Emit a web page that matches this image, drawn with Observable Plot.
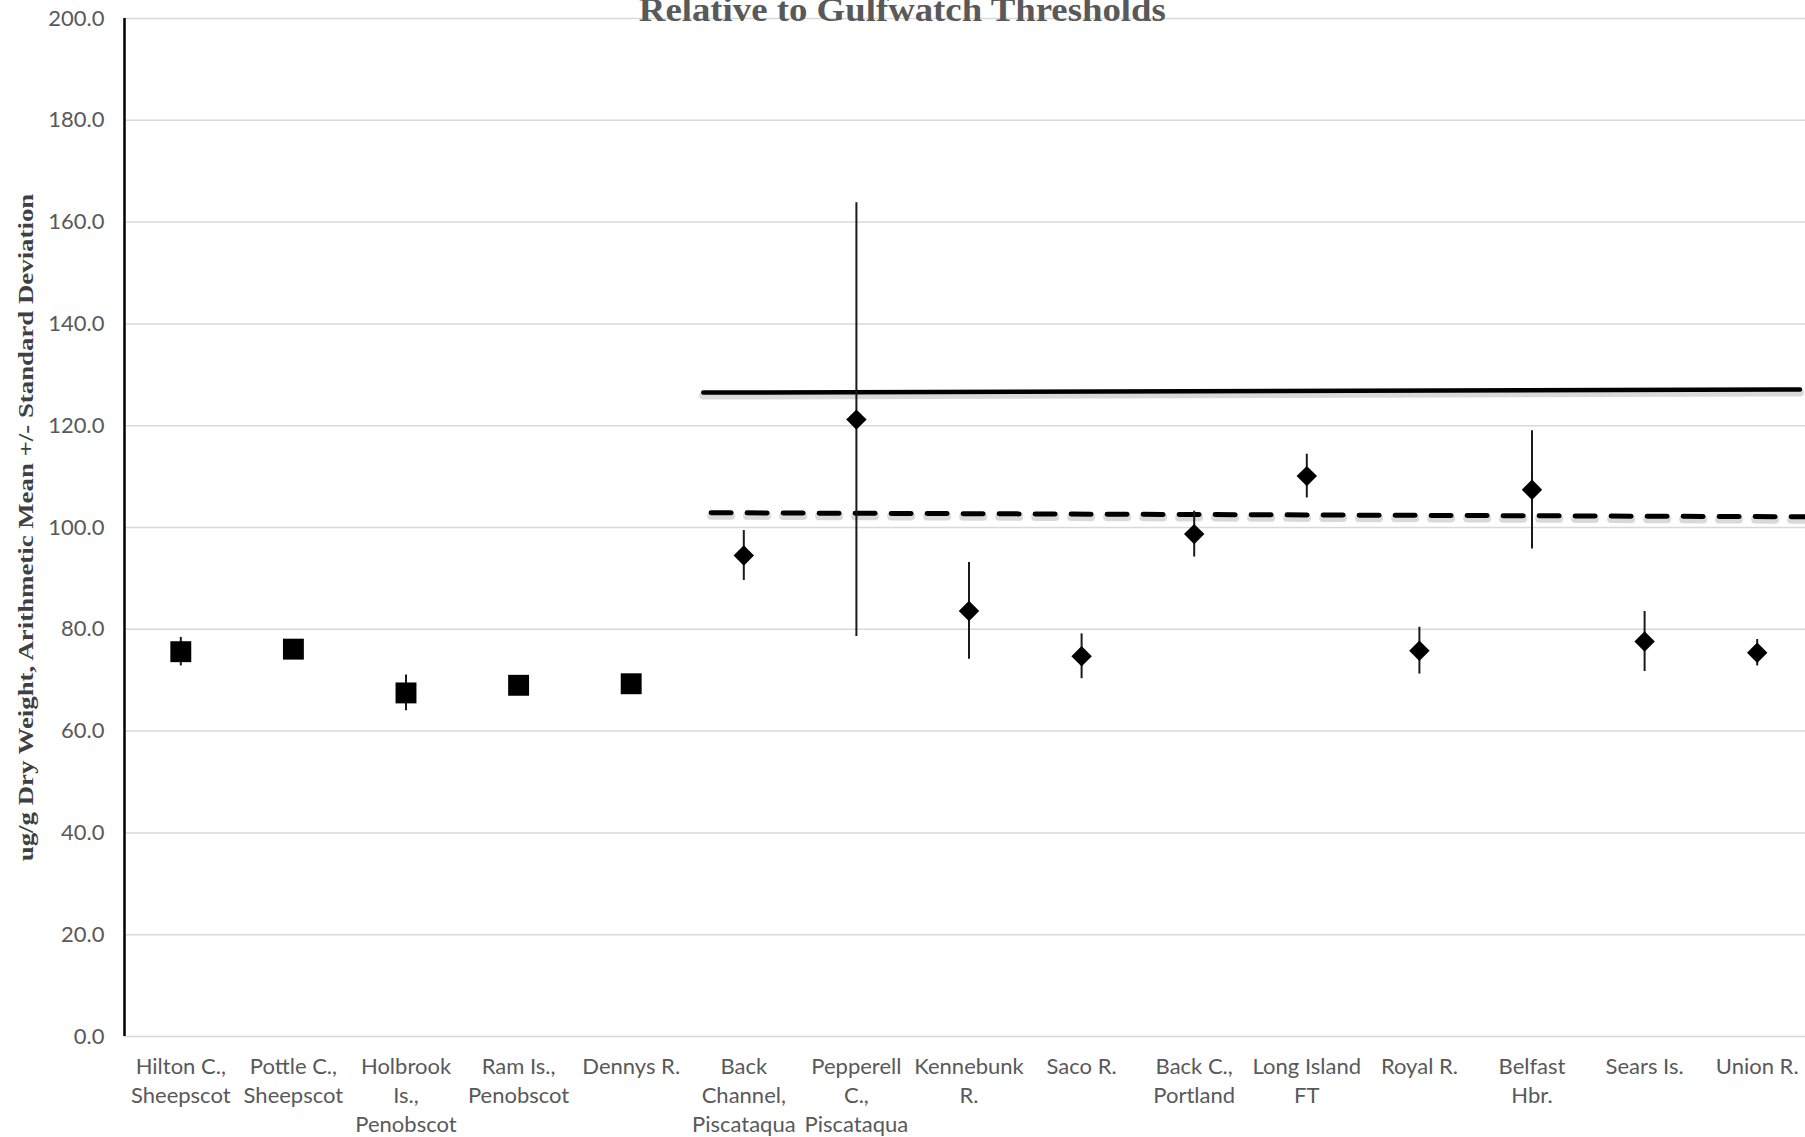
<!DOCTYPE html>
<html>
<head>
<meta charset="utf-8">
<script src="https://cdn.jsdelivr.net/npm/d3@7"></script>
<script src="https://cdn.jsdelivr.net/npm/@observablehq/plot@0.6"></script>
<style>
  html, body { margin: 0; padding: 0; background: #fff; overflow: hidden; }
  #wrap { position: relative; width: 1805px; height: 1137px; overflow: hidden; background: #fff; }
  #chart { position: absolute; left: 0; top: 0; width: 1813px; }
  #chart svg { max-width: none !important; width: 1813px; height: 1137px; }
  #title { position: absolute; left: 0; top: -6px; width: 1805px; text-align: center;
           font-family: "Liberation Serif", "Times New Roman", serif; font-weight: bold;
           font-size: 33px; line-height: 1; color: #595959; white-space: nowrap; }
  #title span { display: inline-block; transform-origin: center; }
  #ytitle { position: absolute; font-family: "Liberation Serif", "Times New Roman", serif; font-weight: bold;
            font-size: 21px; line-height: 1; color: #404040; white-space: nowrap; }
</style>
</head>
<body>
<div id="wrap">
  <div id="chart"></div>
  <div id="title"><span>Relative to Gulfwatch Thresholds</span></div>
  <div id="ytitle">ug/g Dry Weight, Arithmetic Mean +/- Standard Deviation</div>
</div>
<script>
// ---- data ----
const sites = [
  "Hilton C.,\nSheepscot", "Pottle C.,\nSheepscot", "Holbrook\nIs.,\nPenobscot", "Ram Is.,\nPenobscot",
  "Dennys R.", "Back\nChannel,\nPiscataqua", "Pepperell\nC.,\nPiscataqua", "Kennebunk\nR.", "Saco R.",
  "Back C.,\nPortland", "Long Island\nFT", "Royal R.", "Belfast\nHbr.", "Sears Is.", "Union R."
];
const means = [75.6, 76.1, 67.5, 69.0, 69.3, 94.5, 121.2, 83.6, 74.7, 98.7, 110.1, 75.8, 107.4, 77.6, 75.4];
const sds   = [2.8, 1.0, 3.5, 1.0, 1.0, 4.9, 42.6, 9.5, 4.4, 4.5, 4.3, 4.6, 11.6, 5.9, 2.6];
const markerGroup = ["square","square","square","square","square",
  "diamond","diamond","diamond","diamond","diamond","diamond","diamond","diamond","diamond","diamond"];
const yTicks = [0, 20, 40, 60, 80, 100, 120, 140, 160, 180, 200];
// threshold lines (site-index position, value)
const upperThresholdX = [4.64, 14.38];
const upperThresholdY = [126.5, 127.1];
const lowerThresholdX = [4.71, 14.5];
const lowerThresholdY = [102.9, 102.1];

const data = sites.map((s, i) => ({i, site: s, mean: means[i], sd: sds[i], group: markerGroup[i]}));
const upper = upperThresholdX.map((x, k) => ({x, y: upperThresholdY[k]}));
const lower = lowerThresholdX.map((x, k) => ({x, y: lowerThresholdY[k]}));

const chart = Plot.plot({
  width: 1813,
  height: 1137,
  marginLeft: 124,
  marginRight: 0,
  marginTop: 18,
  marginBottom: 101,
  x: {domain: [-0.5, 14.5]},
  y: {domain: [0, 200]},
  style: {fontFamily: "Lato, sans-serif", color: "#595959", background: "#fff", overflow: "visible", maxWidth: "none"},
  marks: [
    Plot.gridY(yTicks, {stroke: "#d9d9d9", strokeOpacity: 1, strokeWidth: 1.5}),
    Plot.axisY(yTicks, {tickSize: 0, tickPadding: 20, tickFormat: d => d.toFixed(1), fontSize: 22, label: null}),
    Plot.axisX(data.map(d => d.i), {tickSize: 0, tickPadding: 17, tickFormat: i => sites[i], fontSize: 22, lineHeight: 1.32, label: null}),
    Plot.ruleX([-0.5], {y1: 0, y2: 200, stroke: "#000", strokeWidth: 2.5}),
    // shadows
    Plot.line(upper, {x: "x", y: "y", stroke: "#000", strokeOpacity: 0.15, strokeWidth: 8, dy: 3}),
    Plot.line(lower, {x: "x", y: "y", stroke: "#000", strokeOpacity: 0.15, strokeWidth: 8, dy: 3, strokeDasharray: "20,16"}),
    Plot.line(upper, {x: "x", y: "y", stroke: "#000", strokeWidth: 4.5}),
    Plot.line(lower, {x: "x", y: "y", stroke: "#000", strokeWidth: 5, strokeDasharray: "20,16"}),
    Plot.ruleX(data, {x: "i", y1: d => d.mean - d.sd, y2: d => d.mean + d.sd, stroke: "#1a1a1a", strokeWidth: 2}),
    Plot.dot(data.filter(d => d.group === "square"), {x: "i", y: "mean", symbol: "square", r: 11.8, fill: "#000"}),
    Plot.dot(data.filter(d => d.group === "diamond"), {x: "i", y: "mean", symbol: "diamond2", r: 9.2, fill: "#000"})
  ]
});
chart.style.maxWidth = "none";
chart.style.width = "1813px";
chart.style.height = "1137px";
document.getElementById("chart").appendChild(chart);

// title: fit to measured width in reference
const tspan = document.querySelector("#title span");
const tw = tspan.getBoundingClientRect().width;
tspan.style.transform = `scaleX(${527 / tw})`;
// y title: rotated, centred on frame
const yt = document.getElementById("ytitle");
const yw = yt.offsetWidth, yh = yt.offsetHeight;
const s = 668 / yw;
yt.style.left = (26.5 - yw / 2) + "px";
yt.style.top = (527 - yh / 2) + "px";
yt.style.transform = `rotate(-90deg) scaleX(${s})`;
</script>
</body>
</html>
